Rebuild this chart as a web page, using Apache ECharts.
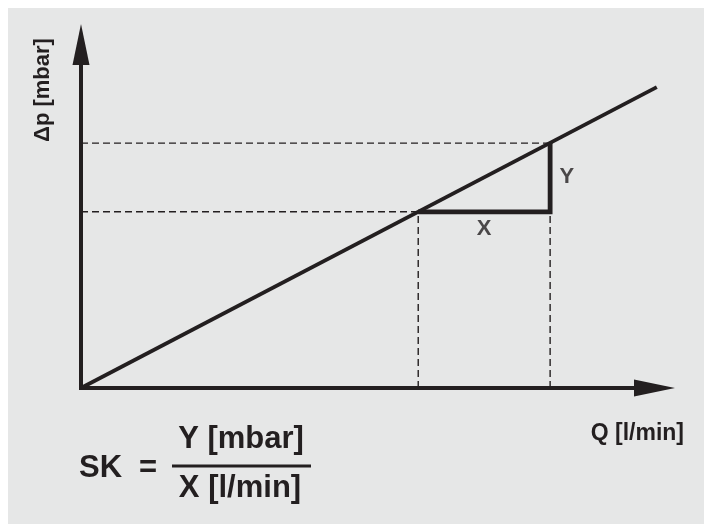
<!DOCTYPE html>
<html>
<head>
<meta charset="utf-8">
<script src="https://cdn.jsdelivr.net/npm/echarts@6/dist/echarts.min.js"></script>
<style>
html,body{margin:0;padding:0;background:#ffffff;}
#chart{width:704px;height:524px;}
</style>
</head>
<body>
<div id="chart"></div>
<script>
// Data (abstract units: Q along x, Δp along y)
const lineQ = [0, 10.04];
const lineDp = [0, 8.76];
const pointQ = [5.88, 8.18];
const pointDp = [5.13, 7.13];
const triangleLabels = ['X', 'Y'];
const axisNames = ['Q [l/min]', 'Δp [mbar]'];
const formulaTexts = ['SK', '=', 'Y [mbar]', 'X [l/min]'];

const INK = '#231f20';
const FONT = '"Liberation Sans", Arial, Helvetica, sans-serif';

function seg(points, dashed, width) {
  return {
    type: 'line',
    data: points,
    showSymbol: false,
    symbol: 'none',
    clip: false,
    silent: true,
    lineStyle: {
      color: INK,
      width: width,
      type: dashed ? [7, 4] : 'solid',
      cap: 'butt',
      join: 'miter'
    },
    z: dashed ? 2 : 4
  };
}

function labelSeries(value, text, position, distance) {
  return {
    type: 'scatter',
    symbol: 'circle',
    symbolSize: 1,
    itemStyle: { color: 'rgba(0,0,0,0)' },
    silent: true,
    clip: false,
    data: [value],
    label: {
      show: true,
      formatter: text,
      position: position,
      distance: distance,
      color: INK,
      fontFamily: 'Liberation Sans',
      fontWeight: 'bold',
      fontSize: 22
    },
    z: 5
  };
}

const series = [
  // dashed guides
  seg([[0, pointDp[0]], [pointQ[0], pointDp[0]]], true, 1.4),
  seg([[0, pointDp[1]], [pointQ[1], pointDp[1]]], true, 1.4),
  seg([[pointQ[0], 0], [pointQ[0], pointDp[0]]], true, 1.4),
  seg([[pointQ[1], 0], [pointQ[1], pointDp[1]]], true, 1.4),
  // main characteristic line
  seg([[lineQ[0], lineDp[0]], [lineQ[1], lineDp[1]]], false, 3.8),
  // slope triangle
  seg([[pointQ[0], pointDp[0]], [pointQ[1], pointDp[0]], [pointQ[1], pointDp[1]]], false, 4.8),
  // triangle labels
  labelSeries([(pointQ[0] + pointQ[1]) / 2, pointDp[0]], triangleLabels[0], 'bottom', 6),
  labelSeries([pointQ[1], (pointDp[0] + pointDp[1]) / 2], triangleLabels[1], 'right', 9)
];

const chart = echarts.init(document.getElementById('chart'), null, { renderer: 'canvas' });
chart.setOption({
  animation: false,
  backgroundColor: '#ffffff',
  grid: { left: 81, top: 44.5, width: 573.5, height: 343.5, containLabel: false },
  xAxis: {
    type: 'value', min: 0, max: 10,
    axisLine: { show: true, onZero: true, symbol: ['none', 'triangle'], symbolSize: [17, 41],
      lineStyle: { color: INK, width: 4, cap: 'square' } },
    axisTick: { show: false }, axisLabel: { show: false }, splitLine: { show: false }
  },
  yAxis: {
    type: 'value', min: 0, max: 10,
    axisLine: { show: true, onZero: true, symbol: ['none', 'triangle'], symbolSize: [17, 41],
      lineStyle: { color: INK, width: 4, cap: 'square' } },
    axisTick: { show: false }, axisLabel: { show: false }, splitLine: { show: false }
  },
  graphic: [
    { type: 'rect', z: -10, silent: true, shape: { x: 8, y: 8, width: 696, height: 516 }, style: { fill: '#e6e7e7' } },
    { type: 'text', x: 684, y: 434, style: { text: axisNames[0], fill: INK, font: 'bold 23px ' + FONT, textAlign: 'right', textVerticalAlign: 'middle' } },
    { type: 'text', x: 43, y: 90, rotation: Math.PI / 2, style: { text: axisNames[1], fill: INK, font: 'bold 22px ' + FONT, textAlign: 'center', textVerticalAlign: 'middle' } },
    { type: 'text', x: 79, y: 468, style: { text: formulaTexts[0], fill: INK, font: 'bold 31px ' + FONT, textAlign: 'left', textVerticalAlign: 'middle' } },
    { type: 'text', x: 148, y: 468, style: { text: formulaTexts[1], fill: INK, font: 'bold 31px ' + FONT, textAlign: 'center', textVerticalAlign: 'middle' } },
    { type: 'text', x: 241, y: 439, style: { text: formulaTexts[2], fill: INK, font: 'bold 31px ' + FONT, textAlign: 'center', textVerticalAlign: 'middle' } },
    { type: 'line', shape: { x1: 172, y1: 466, x2: 311, y2: 466 }, style: { stroke: INK, lineWidth: 3 } },
    { type: 'text', x: 240, y: 488, style: { text: formulaTexts[3], fill: INK, font: 'bold 31px ' + FONT, textAlign: 'center', textVerticalAlign: 'middle' } }
  ],
  series: series
});
</script>
</body>
</html>
